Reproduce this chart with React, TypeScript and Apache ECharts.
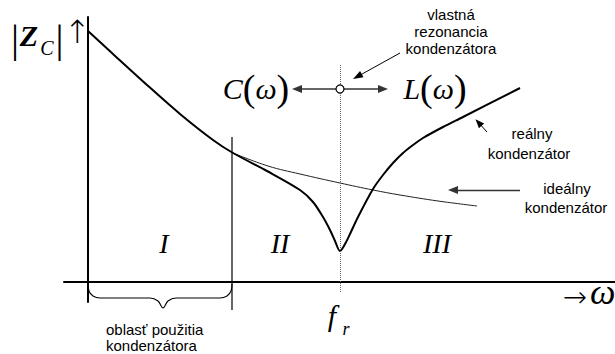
import React, { useEffect, useRef } from "react";
import * as echarts from "echarts";

// Frequency (ω) and impedance |Z| in arbitrary units
const realOmega = [0, 25, 59, 92, 125, 145, 179, 212, 225, 235, 242, 247, 252, 257, 262, 270, 285, 295, 305, 315, 325, 335, 355, 375, 432];
const realZ = [251, 228, 197, 168, 142, 129, 111, 92, 80, 65, 52, 41, 31, 38, 48, 65, 93, 107, 119, 129, 137, 144, 155, 165, 194];
const idealOmega = [145, 180, 212, 252, 285, 312, 350, 389];
const idealZ = [129, 116, 108, 99, 92, 87, 81, 76];
const resonanceOmega = 252;
const usageRegionEnd = 144;
const braceOmega = [0, 1, 5, 12, 62, 70, 75, 80, 88, 132, 139, 143, 144];
const braceZ = [-1, -9, -14, -16, -16, -19, -26, -19, -16, -16, -14, -9, -2];
const regionLabels = ["I", "II", "III"];

const SERIF = "'Liberation Serif', 'Times New Roman', serif";
const SANS = "'Liberation Sans', Arial, sans-serif";
const ARROWS = "'DejaVu Sans', sans-serif";

export default function App() {
  const ref = useRef<HTMLDivElement>(null);
  useEffect(() => {
    if (!ref.current) return;
    const chart = echarts.init(ref.current, undefined, { renderer: "svg" });
    const zip = (a: number[], b: number[]) => a.map((v, i) => [v, b[i]]);
    const tri = (size: number[]) => ({ symbol: "triangle", symbolSize: size });
    const markerLevel = 193;
    const text = (t: string, x: number, y: number, font: string, size: number, extra: any = {}) => ({
      type: "text",
      x,
      y,
      style: {
        text: t,
        fontFamily: font,
        fontSize: size,
        fill: "#000",
        align: "center",
        verticalAlign: "middle",
        ...extra,
      },
    });
    const paren = {
      i: { fontFamily: SERIF, fontSize: 30, fontStyle: "italic" },
      p: { fontFamily: SERIF, fontSize: 38 },
    };
    chart.setOption({
      animation: false,
      grid: { left: 64, right: 0, top: 17, bottom: 52 },
      xAxis: {
        type: "value",
        min: -24,
        max: 527,
        axisLine: { onZero: true, lineStyle: { color: "#000", width: 2 } },
        axisTick: { show: false },
        axisLabel: { show: false },
        splitLine: { show: false },
      },
      yAxis: {
        type: "value",
        min: -20,
        max: 265,
        axisLine: { show: true, onZero: true, lineStyle: { color: "#000", width: 2 } },
        axisTick: { show: false },
        axisLabel: { show: false },
        splitLine: { show: false },
      },
      series: [
        {
          type: "line",
          data: zip(idealOmega, idealZ),
          showSymbol: false,
          smooth: 0.4,
          lineStyle: { color: "#222", width: 1 },
          silent: true,
        },
        {
          type: "line",
          data: zip(realOmega, realZ),
          showSymbol: false,
          smooth: 0.3,
          lineStyle: { color: "#000", width: 2 },
          silent: true,
        },
        {
          type: "line",
          data: zip(braceOmega, braceZ),
          showSymbol: false,
          smooth: 0.4,
          clip: false,
          lineStyle: { color: "#000", width: 1.1 },
          silent: true,
        },
        {
          type: "line",
          data: [
            [usageRegionEnd, 145],
            [usageRegionEnd, -28],
          ],
          showSymbol: false,
          clip: false,
          lineStyle: { color: "#000", width: 1.2 },
          silent: true,
        },
        {
          type: "scatter",
          data: [[resonanceOmega, markerLevel]],
          symbol: "circle",
          symbolSize: 8,
          itemStyle: { color: "#fff", borderColor: "#000", borderWidth: 1.2, opacity: 1 },
          z: 10,
          clip: false,
          silent: true,
          markLine: {
            silent: true,
            symbol: ["none", "none"],
            label: { show: false },
            emphasis: { disabled: true },
            animation: false,
            data: [
              [
                { coord: [resonanceOmega, 217], lineStyle: { color: "#666", width: 1, type: "dotted" } },
                { coord: [resonanceOmega, -11] },
              ],
              [
                { coord: [resonanceOmega, markerLevel], lineStyle: { color: "#333", width: 1.5, type: "solid" } },
                { coord: [209, markerLevel], ...tri([8, 10]) },
              ],
              [
                { coord: [resonanceOmega, markerLevel], lineStyle: { color: "#333", width: 1.5, type: "solid" } },
                { coord: [295, markerLevel], ...tri([8, 10]) },
              ],
              [
                { coord: [312, 229], lineStyle: { color: "#000", width: 1, type: "solid" } },
                { coord: [269.4, 205.4], ...tri([7, 10]) },
              ],
              [
                { coord: [399, 150], lineStyle: { color: "#000", width: 1, type: "solid" } },
                { coord: [390.5, 159.5], ...tri([7, 9]) },
              ],
              [
                { coord: [432, 92], lineStyle: { color: "#333", width: 1.3, type: "solid" } },
                { coord: [365, 92], ...tri([8, 10]) },
              ],
            ],
          },
        },
      ],
      graphic: [
        text("|", 15, 38, SERIF, 40),
        text("Z", 29, 35, SERIF, 30, { fontWeight: "bold", fontStyle: "italic" }),
        text("C", 47, 48, SERIF, 20, { fontStyle: "italic" }),
        text("|", 59.5, 38, SERIF, 40),
        text("↑", 77.5, 32, ARROWS, 32, { fontWeight: 200 }),
        text("{i|C}{p|(}{i|ω}{p|)}", 256, 88, SERIF, 30, { rich: paren }),
        text("{i|L}{p|(}{i|ω}{p|)}", 435, 88, SERIF, 30, { rich: paren }),
        text("vlastná", 451, 14, SANS, 15),
        text("rezonancia", 451, 31, SANS, 15),
        text("kondenzátora", 451, 48, SANS, 15),
        text("reálny", 532, 133, SANS, 15),
        text("kondenzátor", 529, 153, SANS, 15),
        text("ideálny", 567, 188, SANS, 15),
        text("kondenzátor", 566, 207, SANS, 15),
        text("oblasť použitia", 106, 329, SANS, 15, { align: "left" }),
        text("kondenzátora", 106, 345, SANS, 15, { align: "left" }),
        text(regionLabels[0], 164, 243, SERIF, 28, { fontStyle: "italic" }),
        text(regionLabels[1], 280, 243, SERIF, 28, { fontStyle: "italic" }),
        text(regionLabels[2], 437, 243, SERIF, 28, { fontStyle: "italic" }),
        text("f", 332, 315, SERIF, 30, { fontStyle: "italic" }),
        text("r", 346, 329, SERIF, 18, { fontStyle: "italic" }),
        text("→", 575, 297, ARROWS, 29, { fontWeight: 200 }),
        text("ω", 590, 292, SERIF, 36, { fontStyle: "italic", align: "left" }),
      ],
    });
    return () => chart.dispose();
  }, []);
  return (
    <div
      ref={ref}
      style={{ position: "fixed", left: 0, top: 0, width: 615, height: 354, background: "#fff" }}
    />
  );
}
